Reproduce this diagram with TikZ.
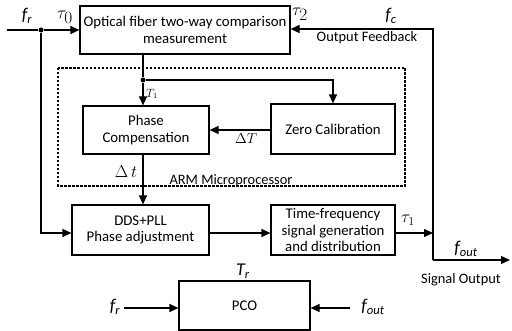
\documentclass[tikz,border=0pt]{standalone}
\usepackage{fontspec}
\setmainfont{Carlito}
\usetikzlibrary{arrows.meta}
\begin{document}
\begin{tikzpicture}[x=1pt,y=-1pt,
  line width=1.2pt,
  arr/.style={-{Triangle[length=9pt,width=8pt]}},
  blk/.style={draw,line width=1.2pt,inner sep=0pt,font=\fontsize{14.8}{16.5}\selectfont,align=center},
  lbl/.style={inner sep=0pt,font=\fontsize{18}{19}\selectfont},
  mlbl/.style={inner sep=0pt,font=\fontsize{19}{20}\selectfont},
  tlbl/.style={inner sep=0pt,font=\fontsize{17}{18}\selectfont},
  small/.style={inner sep=0pt,font=\fontsize{14.4}{15}\selectfont},
  dot/.style={circle,fill,inner sep=0pt,minimum size=5pt}]
\useasboundingbox (0,0) rectangle (512,331);
% dotted ARM box
\draw[line width=1.1pt,dash pattern=on 2.5pt off 1.5pt] (58,68) rectangle (405,186);
% blocks
\node[blk,minimum width=210pt,minimum height=48pt] (ofm) at (185,30) {Optical fiber two-way comparison\\measurement};
\node[blk,minimum width=126pt,minimum height=48pt] (pc) at (146,130) {Phase\\Compensation};
\node[blk,minimum width=124pt,minimum height=50pt] (zc) at (333,129) {Zero Calibration};
\node[blk,minimum width=137pt,minimum height=50pt] (dds) at (140.5,230) {DDS+PLL\\Phase adjustment};
\node[blk,minimum width=124pt,minimum height=50pt] (tf) at (333,230) {Time-frequency\\signal generation\\and distribution};
\node[blk,minimum width=131pt,minimum height=49pt] (pco) at (244.5,305.5) {PCO};
% coordinates
\coordinate (in) at (7,30);
\node[dot] (d1) at (41,30) {};
\coordinate (c1) at (41,233);
\node[dot] (d2) at (143,80) {};
\coordinate (c2) at (333,80);
\coordinate (fb1) at (433,29);
\coordinate (fb2) at (433,260);
\coordinate (out) at (510,260);
\coordinate (tfo) at (433,233);
\coordinate (pl) at (124,308);
\coordinate (pr) at (350,308);
% connectors
\draw[arr] (in) -- (d1) -- (ofm.west |- d1);
\draw[arr] (d1) -- (c1) -- (dds.west |- c1);
\draw (ofm.south -| d2) -- (d2);
\draw[arr] (d2) -- (pc.north -| d2);
\draw[arr] (d2) -- (c2) -- (zc.north);
\draw[arr] (zc.west |- 0,130) -- (pc.east |- 0,130);
\draw[arr] (pc.south -| d2) -- (dds.north -| d2);
\draw[arr] (dds.east |- 0,233) -- (tf.west |- 0,233);
\draw[arr] (tf.east |- tfo) -- (tfo);
\draw[arr] (fb2) -- (fb1) -- (ofm.east |- fb1);
\draw[arr] (fb2) -- (out);
\draw[arr] (pl) -- (pco.west |- pl);
\draw[arr] (pr) -- (pco.east |- pr);
% labels
\node[lbl] at (27,16) {\itshape f\textsubscript{r}};
\node[tlbl] at (65,17) {$\tau_{\textstyle 0}$};
\node[tlbl] at (300,14) {$\tau_{\textstyle 2}$};
\node[lbl] at (391,16) {\itshape f\textsubscript{c}};
\node[small] at (367,38) {Output Feedback};
\node[lbl,font=\fontsize{12}{13}\selectfont] at (152,94) {$T_1$};
\node[lbl,font=\fontsize{15}{16}\selectfont] at (246,139) {$\Delta T$};
\node[mlbl] at (126,172) {$\Delta\,t$};
\node[small,anchor=base] at (231,185) {ARM Microprocessor};
\node[tlbl] at (408,220) {$\tau_1$};
\node[lbl] at (466,249) {\itshape f\textsubscript{out}};
\node[small] at (461,280) {Signal Output};
\node[lbl] at (243,271) {\itshape T\textsubscript{r}};
\node[lbl] at (115,307) {\itshape f\textsubscript{r}};
\node[lbl] at (373,307) {\itshape f\textsubscript{out}};
\end{tikzpicture}
\end{document}
